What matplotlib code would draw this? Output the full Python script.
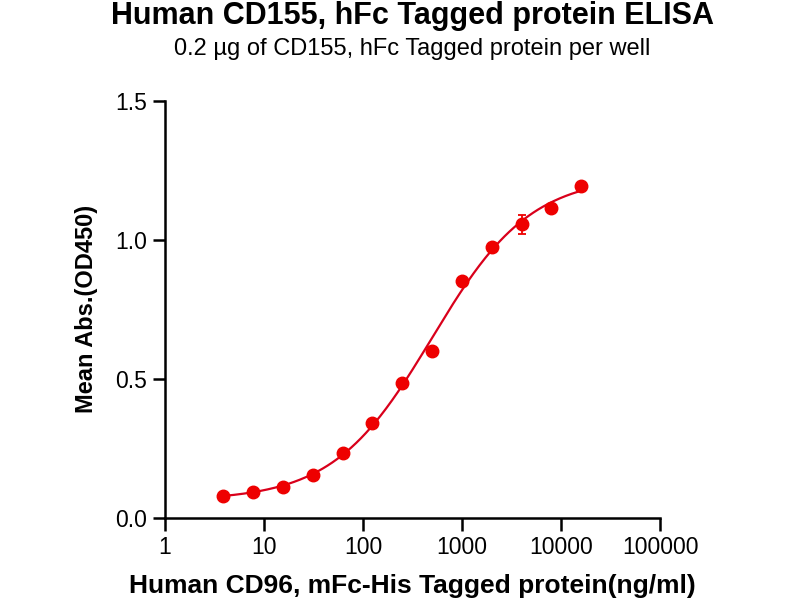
import numpy as np
import matplotlib
matplotlib.use("Agg")
import matplotlib.pyplot as plt
from matplotlib.ticker import FixedLocator, FixedFormatter, NullLocator

plt.rcParams['font.family'] = ['Liberation Sans', 'DejaVu Sans']

conc = [3.9, 7.8, 15.6, 31.25, 62.5, 125, 250, 500, 1000, 2000, 4000, 8000, 16000]
od = [0.078, 0.094, 0.112, 0.154, 0.232, 0.340, 0.486, 0.601, 0.853, 0.975, 1.056, 1.113, 1.193]
err = [0.004, 0.004, 0.004, 0.005, 0.005, 0.006, 0.006, 0.008, 0.008, 0.010, 0.035, 0.010, 0.008]
xticks = [1, 10, 100, 1000, 10000, 100000]
xticklabels = ["1", "10", "100", "1000", "10000", "100000"]
yticks = [0.0, 0.5, 1.0, 1.5]
yticklabels = ["0.0", "0.5", "1.0", "1.5"]

x = np.array(conc, dtype=float)
y = np.array(od, dtype=float)
lx = np.log10(x)

def model(p, lx):
    b, t, c, h = p
    return b + (t - b) / (1.0 + 10 ** ((c - lx) * h))

# simple Gauss-Newton 4PL fit
p = np.array([0.065, 1.28, 2.75, 0.85])
for _ in range(50):
    r = y - model(p, lx)
    J = np.zeros((len(lx), 4))
    for i in range(4):
        dp = np.zeros(4); dp[i] = 1e-6
        J[:, i] = (model(p + dp, lx) - model(p - dp, lx)) / 2e-6
    step, *_ = np.linalg.lstsq(J, r, rcond=None)
    p = p + 0.5 * step

fx = np.logspace(np.log10(conc[0]), np.log10(conc[-1]), 300)
fy = model(p, np.log10(fx))

fig = plt.figure(figsize=(8, 6), dpi=100)
ax = fig.add_axes([0.206, 0.137, 0.619, 0.695])
ax.plot(fx, fy, color='#D9001B', lw=1.6, zorder=2)
ax.errorbar(conc, od, yerr=err, fmt='o', color='#EE0000', ms=9, elinewidth=1.3,
            capsize=3, capthick=1.3, zorder=3)
ax.set_xscale('log')
ax.set_xlim(1, 100000)
ax.set_ylim(0, 1.5)
ax.xaxis.set_major_locator(FixedLocator(xticks))
ax.xaxis.set_major_formatter(FixedFormatter(xticklabels))
ax.xaxis.set_minor_locator(NullLocator())
ax.yaxis.set_major_locator(FixedLocator(yticks))
ax.yaxis.set_major_formatter(FixedFormatter(yticklabels))
for s in ['top', 'right']:
    ax.spines[s].set_visible(False)
for s in ['left', 'bottom']:
    ax.spines[s].set_linewidth(1.8)
ax.tick_params(axis='both', direction='out', length=9, width=1.8, labelsize=16.5, pad=4)
ax.set_xlabel("Human CD96, mFc-His Tagged protein(ng/ml)", fontsize=19, fontweight='bold', labelpad=11)
ax.set_ylabel("Mean Abs.(OD450)", fontsize=17, fontweight='bold', labelpad=12)
cx = 0.206 + 0.619 / 2
fig.text(cx, 0.974, "Human CD155, hFc Tagged protein ELISA", ha='center', va='center',
         fontsize=22, fontweight='bold')
fig.text(cx, 0.919, "0.2 µg of CD155, hFc Tagged protein per well", ha='center', va='center',
         fontsize=17)
fig.savefig("out.png", dpi=100)
